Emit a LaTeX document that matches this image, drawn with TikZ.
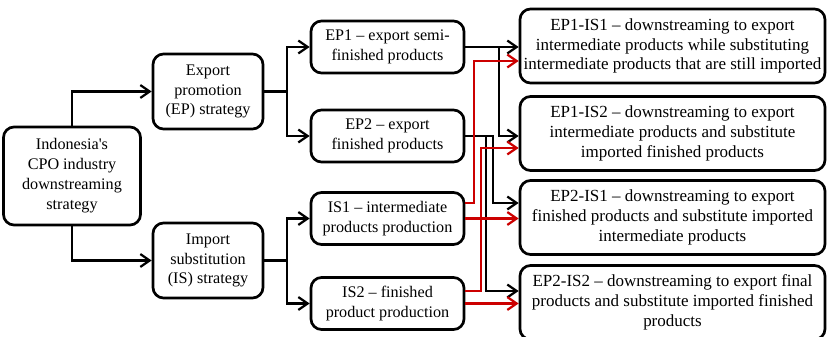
\documentclass[tikz,border=0pt]{standalone}
\usepackage{fontspec}
\setmainfont{Liberation Serif}
\usetikzlibrary{arrows.meta,positioning}
\definecolor{linkred}{RGB}{204,0,0}

\begin{document}
\begin{tikzpicture}[
    x=0.03cm, y=-0.03cm,
    box/.style={rectangle, rounded corners=9pt, draw=black, line width=2.3pt, align=center, inner sep=0pt, font=\fontsize{13.8}{17}\selectfont},
    rootbox/.style={box, minimum width=4.11cm, minimum height=2.94cm},
    stratbox/.style={box, minimum width=3.3cm, minimum height=2.25cm},
    subbox/.style={box, minimum width=4.59cm, minimum height=1.56cm},
    combobox/.style={box, minimum width=9.15cm, minimum height=2.22cm, font=\fontsize{14.5}{16.8}\selectfont},
    arrow/.style={-{Straight Barb[length=8pt,width=11pt]}, line width=1.9pt},
    redarrow/.style={arrow, linkred}
]
    \useasboundingbox (0,0) rectangle (827,337);

    % strategy tree
    \node[rootbox] (root) at (72,176) {Indonesia\textquotesingle s\\CPO industry\\downstreaming\\strategy};
    \node[stratbox] (ep) at (208,91.5) {Export\\promotion\\(EP) strategy};
    \node[stratbox] (is) at (208,260.5) {Import\\substitution\\(IS) strategy};

    \node[subbox] (ep1) at (387.5,47) {EP1 -- export semi-\\finished products};
    \node[subbox] (ep2) at (387.5,136) {EP2 -- export\\finished products};
    \node[subbox] (is1) at (387.5,218.5) {IS1 -- intermediate\\products production};
    \node[subbox] (is2) at (387.5,303.5) {IS2 -- finished\\product production};

    % combined options
    \node[combobox] (ep1is1) at (672.5,46) {EP1-IS1 -- downstreaming to export\\intermediate products while substituting\\intermediate products that are still imported};
    \node[combobox] (ep1is2) at (672.5,133.5) {EP1-IS2 -- downstreaming to export\\intermediate products and substitute\\imported finished products};
    \node[combobox] (ep2is1) at (672.5,217.5) {EP2-IS1 -- downstreaming to export\\finished products and substitute imported\\intermediate products};
    \node[combobox] (ep2is2) at (672.5,302.5) {EP2-IS2 -- downstreaming to export final\\products and substitute imported finished\\products};

    \coordinate (epfork) at (287,91.5);
    \coordinate (isfork) at (287,260.5);
    \coordinate (ep1split) at (499,47);

    \draw[arrow] (root.north) |- (ep.west);
    \draw[arrow] (root.south) |- (is.west);
    \draw[line width=1.9pt] (ep.east) -- (epfork);
    \draw[arrow] (epfork) |- (ep1.west);
    \draw[arrow] (epfork) |- (ep2.west);
    \draw[line width=1.9pt] (is.east) -- (isfork);
    \draw[arrow] (isfork) |- (is1.west);
    \draw[arrow] (isfork) |- (is2.west);

    % export side
    \draw[arrow] (ep1) -- (ep1 -| ep1is1.west);
    \draw[arrow] (ep1split) |- (ep2 -| ep1is2.west);
    \draw[arrow] (ep2.east) -- ++(28,0) |- (ep2is1.west |- 0,203);
    \draw[arrow] (ep2.east) -- ++(21,0) |- (ep2is2.west |- 0,291);

    % substitution side
    \draw[redarrow] (is1.east |- 0,203) -- ++(9,0) |- (ep1is1.west |- 0,61);
    \draw[redarrow] (is1) -- (is1 -| ep2is1.west);
    \draw[redarrow] (is2.east |- 0,291) -- ++(16,0) |- (ep1is2.west |- 0,148);
    \draw[redarrow] (is2) -- (is2 -| ep2is2.west);
\end{tikzpicture}
\end{document}
